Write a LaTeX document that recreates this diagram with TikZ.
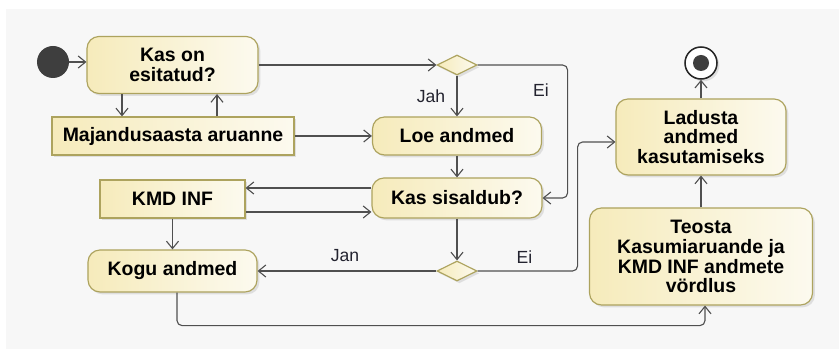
\documentclass[tikz,border=0pt]{standalone}
\usepackage{fontspec}
\setmainfont{Liberation Sans}
\usetikzlibrary{arrows.meta,shadows,shapes.geometric}

\definecolor{bgcol}{HTML}{F7F7F7}
\definecolor{actline}{HTML}{ADA35E}
\definecolor{actfill}{HTML}{F6EBBB}
\definecolor{actfill2}{HTML}{FCFAEF}
\definecolor{flowcol}{HTML}{505050}
\definecolor{lblcol}{HTML}{23232F}
\definecolor{dotcol}{HTML}{3E3E3E}

\tikzset{
  act/.style={draw=actline, line width=1pt, rounded corners=0.36cm,
    left color=actfill, right color=actfill2, align=center, inner sep=0pt,
    drop shadow={shadow xshift=0.07cm, shadow yshift=-0.07cm, fill=black!22},
    font=\fontsize{16.6}{17}\selectfont\bfseries},
  obj/.style={act, rounded corners=0pt},
  dec/.style={diamond, aspect=2, draw=actline, line width=1pt, inner sep=0pt,
    left color=actfill, right color=actfill2,
    drop shadow={shadow xshift=0.07cm, shadow yshift=-0.07cm, fill=black!22},
    minimum width=1.2cm, minimum height=0.6cm},
  flowline/.style={draw=flowcol, line width=0.95pt, rounded corners=0.15cm,
    -{Straight Barb[length=2.2mm,width=3.6mm]}},
  lbl/.style={text=lblcol, font=\fontsize{15}{17}\selectfont}
}

\begin{document}
\begin{tikzpicture}[x=0.03cm, y=-0.03cm]
\useasboundingbox (0,0) rectangle (839,349);
\fill[bgcol] (6,9) rectangle (839,349);

% nodes
\node[circle, fill=dotcol, minimum size=0.96cm, inner sep=0pt] (start) at (53,62) {};
\node[act, minimum width=5.13cm, minimum height=1.71cm] (kason) at (172.5,65) {Kas on\\esitatud?};
\node[obj, minimum width=7.26cm, minimum height=1.14cm] (maj) at (173,136) {Majandusaasta aruanne};
\node[dec] (d1) at (457,65) {};
\node[act, minimum width=5.07cm, minimum height=1.14cm] (loe) at (457,136) {Loe andmed};
\node[obj, minimum width=4.35cm, minimum height=1.14cm] (kmd) at (172.5,199) {KMD INF};
\node[act, minimum width=5.1cm, minimum height=1.2cm] (kas) at (457,198) {Kas sisaldub?};
\node[act, minimum width=5.07cm, minimum height=1.26cm] (kogu) at (172.5,271) {Kogu andmed};
\node[dec] (d2) at (457,271) {};
\node[act, minimum width=5.1cm, minimum height=2.28cm] (ladusta) at (701,137) {Ladusta\\andmed\\kasutamiseks};
\node[act, minimum width=6.69cm, minimum height=2.91cm] (teosta) at (701,256.5) {Teosta\\Kasumiaruande ja\\KMD INF andmete\\v\"ordlus};
\node[circle, draw=black!85, line width=1.3pt, fill=white, minimum size=0.96cm, inner sep=0pt,
  drop shadow={shadow xshift=0.07cm, shadow yshift=-0.07cm, fill=black!22}] (end) at (701,63) {};
\node[circle, fill=dotcol, minimum size=0.48cm, inner sep=0pt] (endin) at (end) {};

% labels
\node[lbl] (jah) at (431,96) {Jah};
\node[lbl] (ei1) at (541,90) {Ei};
\node[lbl] (jan) at (345,256) {Jan};
\node[lbl] (ei2) at (524.5,257) {Ei};

% flows
\draw[flowline] (start) -- (start -| kason.west);
\draw[flowline] ([xshift=-1.515cm]kason.south) -- ([xshift=-1.515cm]kason.south |- maj.north);
\draw[flowline] ([xshift=1.32cm]maj.north) -- ([xshift=1.32cm]maj.north |- kason.south);
\draw[flowline] (maj.east) -- (loe.west);
\draw[flowline] (kason.east) -- (d1.west);
\draw[flowline] (d1.south) -- (loe.north);
\draw[flowline] (d1.east) -- ++(2.7cm,0) |- (kas.east);
\draw[flowline] (loe.south) -- (kas.north);
\draw[flowline] ([yshift=0.3cm]kas.west) -- ([yshift=0.3cm]kas.west -| kmd.east);
\draw[flowline] ([yshift=-0.39cm]kmd.east) -- ([yshift=-0.39cm]kmd.east -| kas.west);
\draw[flowline] (kmd.south) -- (kogu.north);
\draw[flowline] (kas.south) -- (d2.north);
\draw[flowline] (d2.west) -- (kogu.east);
\draw[flowline] (d2.east) -- ++(3cm,0) |- ([yshift=-0.15cm]ladusta.west);
\draw[flowline] ([xshift=0.135cm]kogu.south) -- ++(0,-0.99cm) -| ([xshift=0.12cm]teosta.south);
\draw[flowline] (teosta.north) -- (ladusta.south);
\draw[flowline] (ladusta.north) -- (end.south);

\end{tikzpicture}
\end{document}
